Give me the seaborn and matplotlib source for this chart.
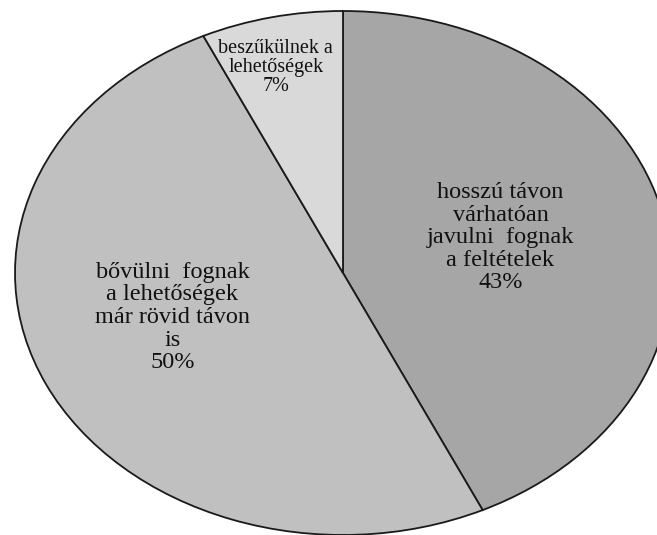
import seaborn as sns
import matplotlib.pyplot as plt

# Datos del grafico (porcentajes)
etiquetas = [
    "hosszú távon\nvárhatóan\njavulni  fognak\na feltételek",
    "bővülni  fognak\na lehetőségek\nmár rövid távon\nis",
    "beszűkülnek a\nlehetőségek",
]
valores = [43, 50, 7]
colores = ["#a6a6a6", "#c0c0c0", "#d9d9d9"]

# posiciones de las etiquetas (coordenadas de datos del pie) y tamaños
posiciones = [(0.48, 0.135), (-0.52, -0.17), (-0.205, 0.785)]
tamanos = [17.5, 17.5, 14.5]
interlineado = [1.1, 1.1, 1.0]

sns.set_theme(style="white")
plt.rcParams['font.family'] = ['Liberation Serif', 'DejaVu Serif']

fig = plt.figure(figsize=(6.57, 5.35), dpi=100)
ax = fig.add_axes([15 / 657, 0.0, 656 / 657, 524 / 535])

ax.pie(valores, colors=colores, startangle=90, counterclock=False,
       wedgeprops=dict(edgecolor="#1a1a1a", linewidth=1.3))
ax.set_aspect('auto')
ax.set_xlim(-1, 1)
ax.set_ylim(-1, 1)
ax.axis('off')

for etiqueta, valor, (x, y), fs, ls in zip(etiquetas, valores, posiciones, tamanos, interlineado):
    ax.text(x, y, f"{etiqueta}\n{valor}%", ha='center', va='center',
            fontsize=fs, color='#111111', linespacing=ls)

fig.savefig("out.png", dpi=100)
